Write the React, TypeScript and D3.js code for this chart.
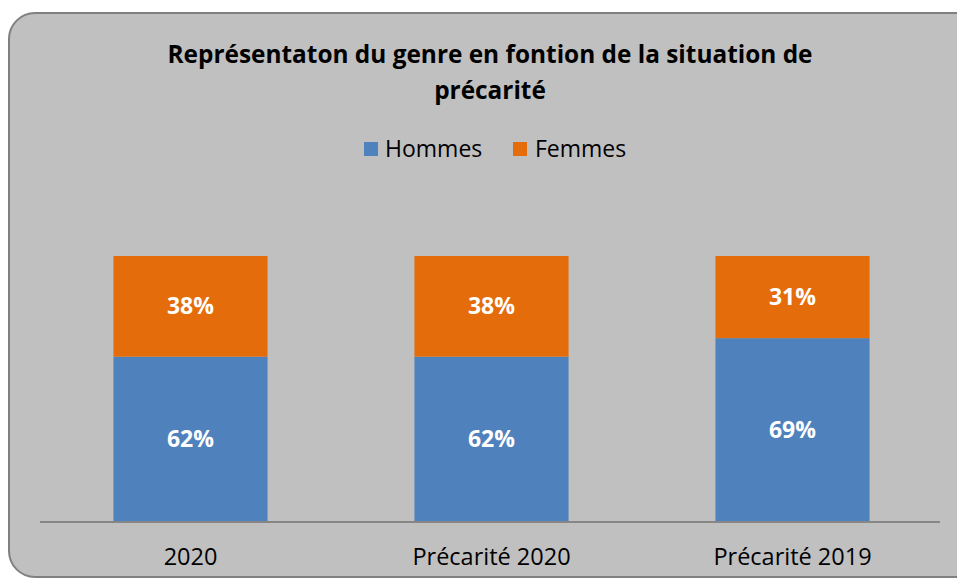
import React from "react";
import * as d3 from "d3";

const categories = ["2020", "Précarité 2020", "Précarité 2019"];
const hommes = [62, 62, 69];
const femmes = [38, 38, 31];
const seriesNames = ["Hommes", "Femmes"];
const titleLines = ["Représentaton du genre en fontion de la situation de", "précarité"];

const W = 957, H = 578;
const COLORS = ["#4F81BD", "#E46C0A"];
const FONT = "'Open Sans', sans-serif";

export default function App() {
  const x = d3.scaleBand<string>().domain(categories).range([40, 943]).paddingInner(0.488).paddingOuter(0.244);
  const y = d3.scaleLinear().domain([0, 100]).range([521, 256]);
  const rows = categories.map((c, i) => ({ cat: c, Hommes: hommes[i], Femmes: femmes[i] }));
  const stack = d3.stack<any>().keys(seriesNames)(rows);
  return (
    <svg width={W} height={H} style={{ position: "absolute", left: 0, top: 0 }}>
      <rect x={9} y={13} width={990} height={564} rx={26} ry={26} fill="#C0C0C0" stroke="#808080" strokeWidth={2} />
      {titleLines.map((t, i) => (
        <text key={i} x={490} y={63 + i * 36} textAnchor="middle" fontFamily={FONT} fontWeight="bold" fontSize={24.4} fill="#000">{t}</text>
      ))}
      <g fontFamily={FONT} fontSize={23}>
        <rect x={364} y={142} width={14} height={14} fill={COLORS[0]} />
        <text x={385} y={157} fill="#000">{seriesNames[0]}</text>
        <rect x={513} y={142} width={14} height={14} fill={COLORS[1]} />
        <text x={535} y={157} fill="#000">{seriesNames[1]}</text>
      </g>
      {stack.map((s, si) => (
        <g key={si}>
          {s.map((d, i) => {
            const bx = x(categories[i])!;
            const y0 = y(d[0]), y1 = y(d[1]);
            return (
              <g key={i}>
                <rect x={bx} y={y1} width={x.bandwidth()} height={y0 - y1} fill={COLORS[si]} />
                <text x={bx + x.bandwidth() / 2} y={(y0 + y1) / 2 + 8} textAnchor="middle" fontFamily={FONT} fontWeight="bold" fontSize={23} fill="#fff">{d[1] - d[0]}%</text>
              </g>
            );
          })}
        </g>
      ))}
      <line x1={40} x2={940} y1={522} y2={522} stroke="#868686" strokeWidth={2} />
      {categories.map((c) => (
        <text key={c} x={x(c)! + x.bandwidth() / 2} y={565} textAnchor="middle" fontFamily={FONT} fontSize={23.5} fill="#000">{c}</text>
      ))}
    </svg>
  );
}
